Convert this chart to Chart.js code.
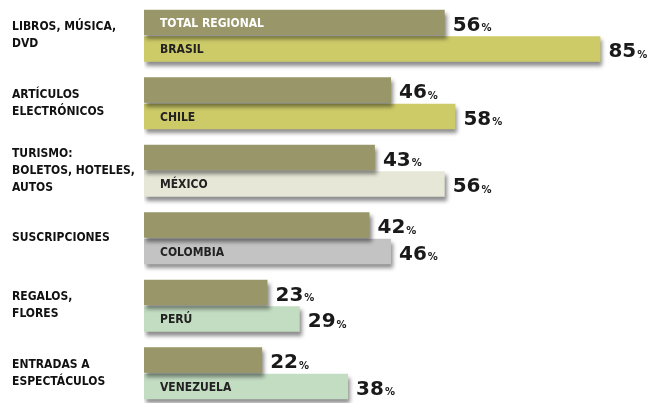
<!DOCTYPE html>
<html>
<head>
<meta charset="utf-8">
<script src="https://cdn.jsdelivr.net/npm/chart.js@4"></script>
<style>
  html, body { margin: 0; padding: 0; background: #fff; overflow: hidden; }
  #wrap { width: 648px; height: 407px; }
</style>
</head>
<body>
<div id="wrap"><canvas id="grafica" width="648" height="407"></canvas></div>
<script>
// categorías y valores (%)
const categorias = [
  ['LIBROS, MÚSICA,', 'DVD'],
  ['ARTÍCULOS', 'ELECTRÓNICOS'],
  ['TURISMO:', 'BOLETOS, HOTELES,', 'AUTOS'],
  ['SUSCRIPCIONES'],
  ['REGALOS,', 'FLORES'],
  ['ENTRADAS A', 'ESPECTÁCULOS']
];
const totalRegional = [56, 46, 43, 42, 23, 22];
const paises = ['BRASIL', 'CHILE', 'MÉXICO', 'COLOMBIA', 'PERÚ', 'VENEZUELA'];
const valoresPais = [85, 58, 56, 46, 29, 38];
const coloresPais = ['#cdcb68', '#cdcb68', '#e6e7d6', '#c3c3c3', '#c2ddc2', '#c2ddc2'];

const condensada = "'DejaVu Sans Condensed', 'Liberation Sans Narrow', sans-serif";

document.addEventListener('DOMContentLoaded', function () {
  const canvas = document.getElementById('grafica');
  if (!canvas || typeof Chart === 'undefined') {
    console.warn('Chart.js no está cargado');
    return;
  }

  // sombra gris bajo las barras
  const sombra = {
    id: 'sombra',
    beforeDatasetsDraw(chart) {
      const ctx = chart.ctx;
      ctx.save();
      ctx.shadowColor = 'rgba(0,0,0,0.45)';
      ctx.shadowOffsetX = 2;
      ctx.shadowOffsetY = 4;
      ctx.shadowBlur = 4;
    },
    afterDatasetsDraw(chart) {
      chart.ctx.restore();
    }
  };

  // etiquetas: valor con % al final, país dentro de la barra
  const etiquetas = {
    id: 'etiquetas',
    afterDraw(chart) {
      const ctx = chart.ctx;
      ctx.save();
      ctx.textBaseline = 'middle';
      chart.data.datasets.forEach(function (ds, i) {
        const meta = chart.getDatasetMeta(i);
        meta.data.forEach(function (bar, j) {
          const v = ds.data[j];
          const x = bar.x + 8;
          const y = bar.y + 3;
          ctx.fillStyle = '#1a1a1a';
          ctx.textAlign = 'left';
          ctx.font = "bold 20px 'DejaVu Sans', sans-serif";
          const num = String(v);
          ctx.fillText(num, x, y);
          const w = ctx.measureText(num).width;
          ctx.font = "bold 10px 'DejaVu Sans', sans-serif";
          ctx.fillText('%', x + w + 1, y + 3);

          // texto dentro de la barra
          let texto = null;
          let color = '#222';
          if (i === 1) texto = paises[j];
          if (i === 0 && j === 0) { texto = 'TOTAL REGIONAL'; color = '#ffffff'; }
          if (texto) {
            ctx.font = 'bold 12px ' + condensada;
            ctx.fillStyle = color;
            ctx.fillText(texto, bar.base + 16, bar.y + 1);
          }
        });
      });
      ctx.restore();
    }
  };

  new Chart(canvas.getContext('2d'), {
    type: 'bar',
    data: {
      labels: categorias,
      datasets: [
        {
          label: 'Total regional',
          data: totalRegional,
          backgroundColor: '#999769',
          categoryPercentage: 0.78,
          barPercentage: 0.97
        },
        {
          label: 'País',
          data: valoresPais,
          backgroundColor: coloresPais,
          categoryPercentage: 0.78,
          barPercentage: 0.97
        }
      ]
    },
    options: {
      indexAxis: 'y',
      responsive: false,
      animation: false,
      layout: { padding: { left: 12, right: 10, top: 2, bottom: 0 } },
      plugins: { legend: { display: false }, tooltip: { enabled: false } },
      scales: {
        x: { display: false, min: 0, max: 92 },
        y: {
          grid: { display: false },
          border: { display: false },
          afterFit(scale) {
            scale.width = 132;
            scale.paddingTop = 0;
            scale.paddingBottom = 0;
          },
          ticks: {
            crossAlign: 'far',
            color: '#111',
            font: { family: condensada, size: 12, weight: 'bold', lineHeight: 1.4 }
          }
        }
      }
    },
    plugins: [sombra, etiquetas]
  });
});
</script>
</body>
</html>
